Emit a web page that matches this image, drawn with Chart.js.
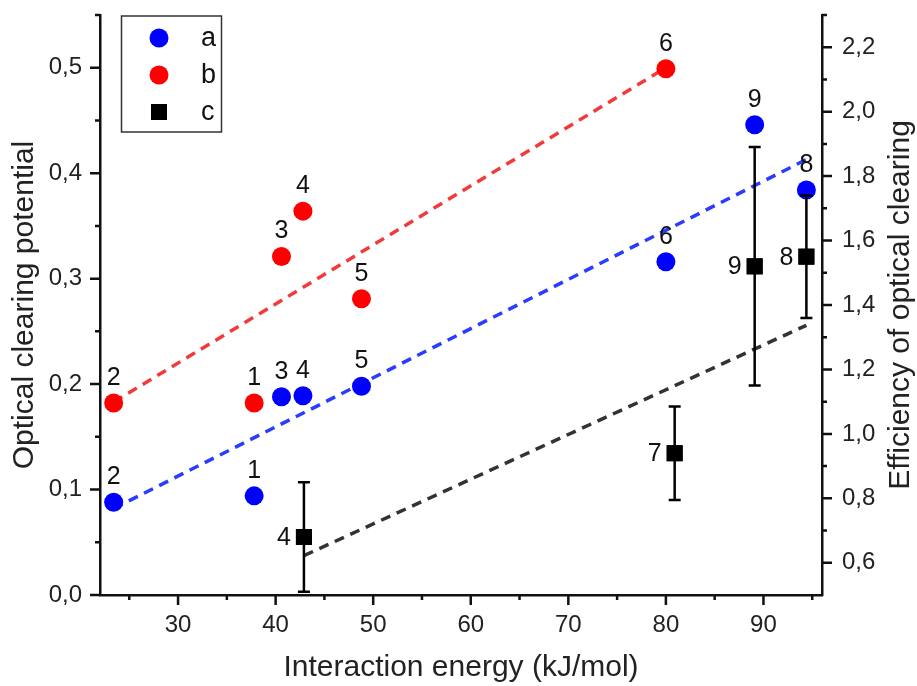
<!DOCTYPE html>
<html>
<head>
<meta charset="utf-8">
<script src="https://cdn.jsdelivr.net/npm/chart.js@4/dist/chart.umd.min.js"></script>
<style>
html,body{margin:0;padding:0;background:#fff;}
canvas{display:block;}
</style>
</head>
<body>
<canvas id="c" width="917" height="686"></canvas>
<script>
// ---- data ----
const seriesNames = ['a', 'b', 'c'];

const energyA = [37.8, 23.4, 40.6, 42.8, 48.8, 80.0, 94.4, 89.1];
const potentialA = [0.094, 0.088, 0.188, 0.189, 0.198, 0.316, 0.384, 0.446];
const labelsA = ['1', '2', '3', '4', '5', '6', '8', '9'];

const energyB = [37.8, 23.4, 40.6, 42.8, 48.8, 80.0];
const potentialB = [0.182, 0.182, 0.321, 0.364, 0.281, 0.499];
const labelsB = ['1', '2', '3', '4', '5', '6'];

const energyC = [42.9, 80.9, 94.4, 89.1];
const efficiencyC = [0.68, 0.94, 1.55, 1.52];
const errorC = [0.17, 0.145, 0.19, 0.37];
const labelsC = ['4', '7', '8', '9'];

const fitAx = [23.4, 94.4], fitAy = [0.082, 0.413];
const fitBx = [23.4, 80.0], fitBy = [0.183, 0.500];
const fitCx = [42.9, 94.4], fitCy = [0.622, 1.337];

const xTicks = [30, 40, 50, 60, 70, 80, 90];
const xMinor = [25, 35, 45, 55, 65, 75, 85, 95];
const yTicks = [0.0, 0.1, 0.2, 0.3, 0.4, 0.5];
const yMinor = [0.05, 0.15, 0.25, 0.35, 0.45, 0.55];
const y1Ticks = [0.6, 0.8, 1.0, 1.2, 1.4, 1.6, 1.8, 2.0, 2.2];
const y1Minor = [0.7, 0.9, 1.1, 1.3, 1.5, 1.7, 1.9, 2.1, 2.3];

const xTitle = 'Interaction energy (kJ/mol)';
const yTitle = 'Optical clearing potential';
const y1Title = 'Efficiency of optical clearing';

// ---- build ----
const FONT = '"Liberation Sans", Arial, Helvetica, sans-serif';
const pts = (xs, ys) => xs.map((x, i) => ({x: x, y: ys[i]}));
const comma = v => v.toFixed(1).replace('.', ',');
const AX = '#111';

const datasets = [
  {label: seriesNames[0], data: pts(energyA, potentialA), yAxisID: 'y', pointStyle: 'circle', pointRadius: 9.5,
   backgroundColor: '#0000ff', borderWidth: 0, showLine: false, order: 1, pLabels: labelsA, pPos: 'above'},
  {label: seriesNames[1], data: pts(energyB, potentialB), yAxisID: 'y', pointStyle: 'circle', pointRadius: 9.5,
   backgroundColor: '#ff0000', borderWidth: 0, showLine: false, order: 1, pLabels: labelsB, pPos: 'above'},
  {label: seriesNames[2], data: pts(energyC, efficiencyC), yAxisID: 'y1', pointStyle: 'rect', pointRadius: 11.3,
   backgroundColor: '#000', borderWidth: 0, showLine: false, order: 0, pLabels: labelsC, pPos: 'left', errs: errorC},
  {label: 'fitA', data: pts(fitAx, fitAy), yAxisID: 'y', showLine: true, pointRadius: 0, borderColor: '#2a3cff',
   borderWidth: 3.5, borderDash: [10, 7], fill: false, order: 5},
  {label: 'fitB', data: pts(fitBx, fitBy), yAxisID: 'y', showLine: true, pointRadius: 0, borderColor: '#f23a3a',
   borderWidth: 3.5, borderDash: [10, 7], fill: false, order: 5},
  {label: 'fitC', data: pts(fitCx, fitCy), yAxisID: 'y1', showLine: true, pointRadius: 0, borderColor: '#333',
   borderWidth: 3.5, borderDash: [10, 7], fill: false, order: 5}
];

const whiteBg = {
  id: 'whiteBg',
  beforeDraw(chart) {
    const c = chart.ctx; c.save(); c.fillStyle = '#fff'; c.fillRect(0, 0, chart.width, chart.height); c.restore();
  }
};

const extras = {
  id: 'extras',
  afterDatasetsDraw(chart) {
    const ctx = chart.ctx;
    // error bars
    chart.data.datasets.forEach((ds, i) => {
      if (!ds.errs) return;
      const meta = chart.getDatasetMeta(i);
      const sc = chart.scales[ds.yAxisID];
      ctx.save(); ctx.strokeStyle = '#000'; ctx.lineWidth = 2.5;
      meta.data.forEach((el, j) => {
        const v = ds.data[j].y, e = ds.errs[j];
        const yt = sc.getPixelForValue(v + e), yb = sc.getPixelForValue(v - e);
        ctx.beginPath();
        ctx.moveTo(el.x, yt); ctx.lineTo(el.x, yb);
        ctx.moveTo(el.x - 6, yt); ctx.lineTo(el.x + 6, yt);
        ctx.moveTo(el.x - 6, yb); ctx.lineTo(el.x + 6, yb);
        ctx.stroke();
      });
      ctx.restore();
      meta.data.forEach(el => el.draw(ctx));
    });
    // point labels
    chart.data.datasets.forEach((ds, i) => {
      if (!ds.pLabels) return;
      const meta = chart.getDatasetMeta(i);
      ctx.save();
      ctx.fillStyle = '#111';
      ctx.font = '25px ' + FONT;
      ctx.textBaseline = 'middle';
      meta.data.forEach((el, j) => {
        if (ds.pPos === 'above') { ctx.textAlign = 'center'; ctx.fillText(ds.pLabels[j], el.x, el.y - 25); }
        else { ctx.textAlign = 'right'; ctx.fillText(ds.pLabels[j], el.x - 13, el.y + 1); }
      });
      ctx.restore();
    });
  },
  afterDraw(chart) {
    const ctx = chart.ctx;
    const {x, y, y1} = chart.scales;
    const area = chart.chartArea;
    ctx.save();
    ctx.strokeStyle = AX; ctx.lineWidth = 2.5; ctx.lineCap = 'butt';
    ctx.beginPath();
    xTicks.forEach(v => { const p = x.getPixelForValue(v); ctx.moveTo(p, area.bottom); ctx.lineTo(p, area.bottom + 10); });
    xMinor.forEach(v => { const p = x.getPixelForValue(v); ctx.moveTo(p, area.bottom); ctx.lineTo(p, area.bottom + 5); });
    yTicks.forEach(v => { const p = y.getPixelForValue(v); ctx.moveTo(area.left, p); ctx.lineTo(area.left - 10, p); });
    yMinor.forEach(v => { const p = y.getPixelForValue(v); ctx.moveTo(area.left, p); ctx.lineTo(area.left - 5, p); });
    y1Ticks.forEach(v => { const p = y1.getPixelForValue(v); ctx.moveTo(area.right, p); ctx.lineTo(area.right + 10, p); });
    y1Minor.forEach(v => { const p = y1.getPixelForValue(v); ctx.moveTo(area.right, p); ctx.lineTo(area.right + 5, p); });
    ctx.stroke();
    ctx.fillStyle = '#222';
    ctx.font = '30px ' + FONT;
    ctx.textAlign = 'center'; ctx.textBaseline = 'middle';
    ctx.translate(901, (area.top + area.bottom) / 2);
    ctx.rotate(-Math.PI / 2);
    ctx.fillText(y1Title, 0, 0);
    ctx.restore();
    // legend
    ctx.save();
    ctx.strokeStyle = '#333'; ctx.lineWidth = 1.5;
    ctx.strokeRect(121.5, 16, 100, 116);
    ctx.font = '27px ' + FONT; ctx.textAlign = 'left'; ctx.textBaseline = 'middle';
    [0, 1, 2].forEach((i, k) => {
      const ds = chart.data.datasets[i];
      const cy = 38 + k * 37, cx = 159;
      ctx.fillStyle = ds.backgroundColor;
      ctx.beginPath();
      if (ds.pointStyle === 'rect') { ctx.rect(cx - 8, cy - 8, 16, 16); }
      else { ctx.arc(cx, cy, 9.5, 0, Math.PI * 2); }
      ctx.fill();
      ctx.fillStyle = '#111';
      ctx.fillText(ds.label, 201, cy + 1);
    });
    ctx.restore();
  }
};

const noPadV = s => { s.paddingTop = 0; s.paddingBottom = 0; };
const noPadH = s => { s.paddingLeft = 0; s.paddingRight = 0; };

new Chart(document.getElementById('c'), {
  type: 'scatter',
  data: {datasets: datasets},
  options: {
    responsive: false,
    animation: false,
    devicePixelRatio: 1,
    layout: {padding: {top: 15, left: 0, right: 0, bottom: 0}},
    plugins: {legend: {display: false}, tooltip: {enabled: false}},
    scales: {
      x: {
        type: 'linear', position: 'bottom', min: 22, max: 96,
        afterBuildTicks: s => { s.ticks = xTicks.map(v => ({value: v})); },
        afterFit: s => { s.height = 91; noPadH(s); },
        grid: {display: false, drawTicks: false},
        border: {display: true, width: 2.5, color: AX},
        ticks: {padding: 16, color: '#222', font: {family: FONT, size: 24}, callback: v => String(v), maxRotation: 0},
        title: {display: true, text: xTitle, color: '#222', font: {family: FONT, size: 30}, padding: {top: 0, bottom: 0}}
      },
      y: {
        type: 'linear', position: 'left', min: 0, max: 0.55,
        afterBuildTicks: s => { s.ticks = yTicks.map(v => ({value: v})); },
        afterFit: s => { s.width = 100; noPadV(s); },
        grid: {display: false, drawTicks: false},
        border: {display: true, width: 2.5, color: AX},
        ticks: {padding: 18, color: '#222', font: {family: FONT, size: 24}, callback: v => comma(v)},
        title: {display: true, text: yTitle, color: '#222', font: {family: FONT, size: 30}, padding: {top: 7, bottom: 7}}
      },
      y1: {
        type: 'linear', position: 'right', min: 0.5, max: 2.3,
        afterBuildTicks: s => { s.ticks = y1Ticks.map(v => ({value: v})); },
        afterFit: s => { s.width = 95; noPadV(s); },
        grid: {display: false, drawTicks: false},
        border: {display: true, width: 2.5, color: AX},
        ticks: {padding: 20, color: '#222', font: {family: FONT, size: 24}, callback: v => comma(v)},
        title: {display: false}
      }
    }
  },
  plugins: [whiteBg, extras]
});
</script>
</body>
</html>
